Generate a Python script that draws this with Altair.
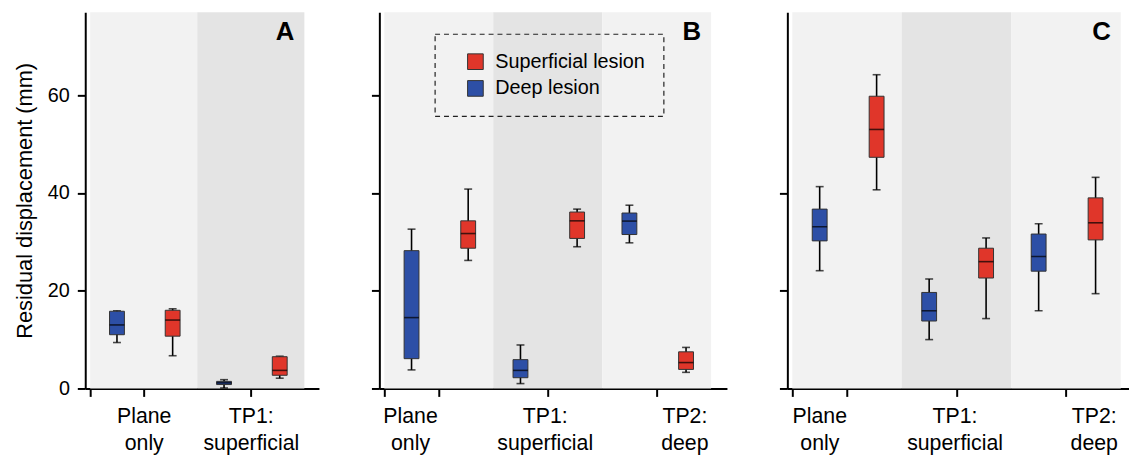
import altair as alt
import pandas as pd

FONT = "Liberation Sans"
RED = "#e0362a"
BLUE = "#2d4fa6"
LIGHT = "#f2f2f2"
DARK = "#e4e4e4"
H = 380

series_names = ["Superficial lesion", "Deep lesion"]
cat_lines = [["Plane", "only"], ["TP1:", "superficial"], ["TP2:", "deep"]]

# ---- Panel A (lo, q1, median, q3, hi) per category
a_deep_lo = [9.4, 0.1]
a_deep_q1 = [11.0, 0.8]
a_deep_med = [13.0, 1.15]
a_deep_q3 = [15.8, 1.45]
a_deep_hi = [15.9, 1.8]
a_sup_lo = [6.7, 2.1]
a_sup_q1 = [10.7, 2.7]
a_sup_med = [14.0, 3.7]
a_sup_q3 = [16.0, 6.5]
a_sup_hi = [16.3, 6.6]

# ---- Panel B
b_deep_lo = [3.8, 1.0, 29.8]
b_deep_q1 = [6.1, 2.2, 31.5]
b_deep_med = [14.5, 3.7, 34.25]
b_deep_q3 = [28.2, 5.9, 35.9]
b_deep_hi = [32.6, 8.9, 37.5]
b_sup_lo = [26.2, 29.0, 3.3]
b_sup_q1 = [28.7, 30.7, 3.9]
b_sup_med = [31.7, 34.3, 5.3]
b_sup_q3 = [34.3, 36.1, 7.5]
b_sup_hi = [40.8, 36.7, 8.4]

# ---- Panel C
c_deep_lo = [24.1, 10.0, 15.9]
c_deep_q1 = [30.2, 13.8, 24.0]
c_deep_med = [33.1, 15.9, 27.0]
c_deep_q3 = [36.7, 19.65, 31.6]
c_deep_hi = [41.3, 22.4, 33.7]
c_sup_lo = [40.65, 14.3, 19.4]
c_sup_q1 = [47.3, 22.6, 30.4]
c_sup_med = [53.0, 25.95, 33.9]
c_sup_q3 = [59.8, 28.7, 39.0]
c_sup_hi = [64.2, 30.8, 43.2]

color_scale = alt.Scale(domain=series_names, range=[RED, BLUE])
shade_scale = alt.Scale(domain=["light", "dark"], range=[LIGHT, DARK])


def panel(letter, n, deep, sup, width, xmax, ytick_vals, show_y, shifts, legend):
    rows = []
    for i in range(n):
        for name, st, off in ((series_names[1], deep, 0.25), (series_names[0], sup, 0.77)):
            rows.append(dict(x=i + off, series=name, lo=st[0][i], q1=st[1][i],
                             med=st[2][i], q3=st[3][i], hi=st[4][i]))
    df = pd.DataFrame(rows)
    bands = pd.DataFrame({"start": list(range(n)), "end": list(range(1, n + 1)),
                          "shade": ["light", "dark", "light"][:n]})

    xscale = alt.Scale(domain=[0, xmax], nice=False, zero=False)
    yscale = alt.Scale(domain=[0, 77], nice=False)
    tvals = [0] + [i + 0.5 for i in range(n)]
    expr = "''"
    for i in reversed(range(n)):
        l1, l2 = cat_lines[i]
        expr = f"datum.value == {i + 0.5} ? ['{l1}', '{l2}'] : " + expr
    cond = [{"test": f"datum.value == {i + 0.5}", "value": shifts[i]} for i in range(n)]
    xaxis = alt.Axis(values=tvals, labelExpr=expr, labelOffset={"condition": cond, "value": 0},
                     labelOverlap=False, labelFlush=False, labelLineHeight=28,
                     labelPadding=9, labelFontSize=21.5, title=None, grid=False)
    if show_y:
        yaxis = alt.Axis(values=ytick_vals, title="Residual displacement (mm)", grid=False,
                         labelPadding=8, titlePadding=11)
    else:
        yaxis = alt.Axis(values=ytick_vals, labels=False, title=None, grid=False)

    bg = alt.Chart(bands).mark_rect().encode(
        x=alt.X("start:Q", scale=xscale, axis=xaxis),
        x2="end:Q",
        y=alt.value(0), y2=alt.value(H),
        fill=alt.Fill("shade:N", scale=shade_scale, legend=None),
    )
    base = alt.Chart(df)
    whisk = base.mark_rule(color="black", strokeWidth=1.6).encode(
        x=alt.X("x:Q", scale=xscale),
        y=alt.Y("lo:Q", scale=yscale, axis=yaxis), y2="hi:Q")
    caps = base.transform_fold(["lo", "hi"], as_=["k", "v"]).mark_tick(
        orient="horizontal", size=8, thickness=1.6, color="black").encode(
        x=alt.X("x:Q", scale=xscale), y=alt.Y("v:Q", scale=yscale))
    box = base.mark_bar(size=15, stroke="#333333", strokeWidth=1).encode(
        x=alt.X("x:Q", scale=xscale),
        y=alt.Y("q1:Q", scale=yscale), y2="q3:Q",
        color=alt.Color("series:N", scale=color_scale, legend=legend))
    med = base.mark_tick(orient="horizontal", size=15, thickness=1.6, color="black").encode(
        x=alt.X("x:Q", scale=xscale), y=alt.Y("med:Q", scale=yscale))
    lab = alt.Chart(pd.DataFrame({"t": [letter], "x": [n]})).mark_text(
        align="right", baseline="alphabetic", font=FONT, fontSize=26, fontWeight="bold",
        dx=-10, color="black").encode(x=alt.X("x:Q", scale=xscale), y=alt.value(28), text="t:N")
    return alt.layer(bg, whisk, caps, box, med, lab).properties(width=width, height=H)


legend_b = alt.Legend(orient="none", legendX=56, legendY=22, title=None,
                      strokeColor="#222222", padding=18, symbolOffset=13,
                      symbolType="square", symbolSize=250, symbolStrokeColor="#333333",
                      symbolStrokeWidth=1, symbolOpacity=1, labelFontSize=20,
                      labelOffset=10, rowPadding=7, labelLimit=0)

pA = panel("A", 2, [a_deep_lo, a_deep_q1, a_deep_med, a_deep_q3, a_deep_hi],
           [a_sup_lo, a_sup_q1, a_sup_med, a_sup_q3, a_sup_hi],
           236, 2.09, [0, 20, 40, 60], True, [0, 0], None)
pB = panel("B", 3, [b_deep_lo, b_deep_q1, b_deep_med, b_deep_q3, b_deep_hi],
           [b_sup_lo, b_sup_q1, b_sup_med, b_sup_q3, b_sup_hi],
           351, 3.1, [0, 20, 40, 60], False, [-29, -3, 28], legend_b)
pC = panel("C", 3, [c_deep_lo, c_deep_q1, c_deep_med, c_deep_q3, c_deep_hi],
           [c_sup_lo, c_sup_q1, c_sup_med, c_sup_q3, c_sup_hi],
           345, 3.03, [0, 20, 40], False, [-28, -2, 28], None)

chart = alt.hconcat(pA, pB, pC, spacing=52).resolve_scale(
    x="independent", y="independent", color="independent", fill="independent"
).resolve_legend(color="independent").properties(
    padding={"left": 5, "top": 2, "right": 0, "bottom": 0}
).configure_view(stroke=None).configure_axis(
    domainColor="black", domainWidth=2, tickColor="black", tickWidth=2, tickSize=8,
    labelFont=FONT, labelFontSize=20, labelColor="black",
    titleFont=FONT, titleFontSize=22, titleFontWeight="normal", titleColor="black",
).configure_legend(strokeDash=[5, 4], strokeWidth=1.2, labelFont=FONT, labelColor="black")

chart.save("out.html", embed_options={"renderer": "svg", "actions": False})
